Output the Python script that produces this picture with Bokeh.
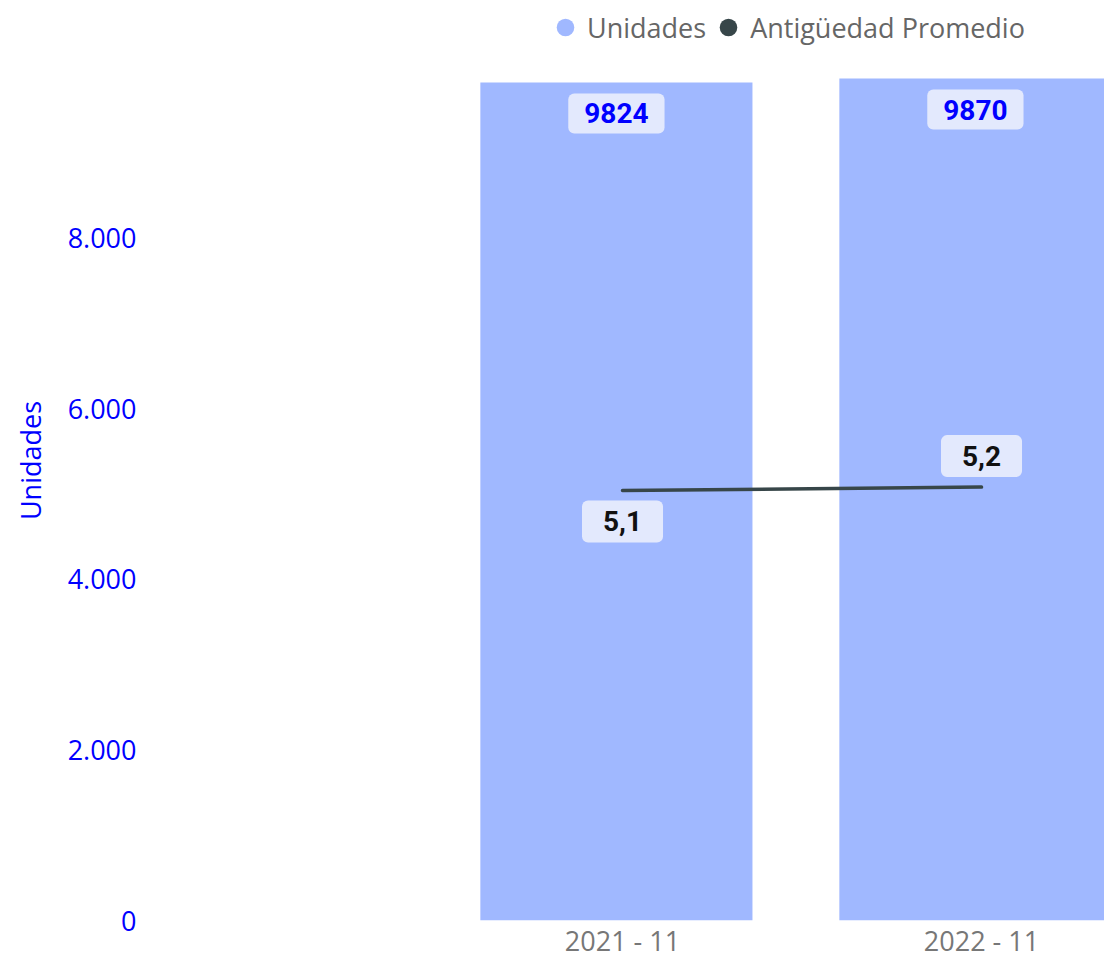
from bokeh.plotting import figure
from bokeh.models import (Range1d, FixedTicker, ColumnDataSource, Legend,
                          LegendItem)
from bokeh.transform import dodge
from bokeh.core.properties import value
from bokeh.embed import file_html
from bokeh.resources import INLINE

# ---- data ----
categories = ["2021 - 11", "2022 - 11"]
unidades = [9824, 9870]
antiguedad = [5.12, 5.16]
y_ticks = [0, 2000, 4000, 6000, 8000]
y_tick_labels = ["0", "2.000", "4.000", "6.000", "8.000"]

# ---- styles ----
BAR = "#A0B8FF"
LINE = "#374649"
LBL_BG = "#E3E9FD"
AX_BLUE = "#0000FF"
FONT = "Open Sans"
LBL_FONT = "Roboto"
line_label_offsets = [31, -31]

xs = list(range(len(categories)))
src = ColumnDataSource(dict(
    x=xs,
    u=unidades,
    a=antiguedad,
    u_lbl=[str(v) for v in unidades],
    a_lbl=[f"{v:.1f}".replace(".", ",") for v in antiguedad],
    a_off=line_label_offsets,
))

p = figure(width=1104, height=961,
           x_range=Range1d(-1.3148, 1.3426),
           y_range=Range1d(0, 10785),
           output_backend="svg", toolbar_location=None,
           min_border_left=150, min_border_right=0,
           min_border_top=0, min_border_bottom=41)
p.extra_y_ranges = {"sec": Range1d(0, 10.954)}
p.outline_line_color = None
p.grid.visible = False
p.background_fill_color = "white"
p.border_fill_color = "white"

# bars
p.vbar(x=dodge("x", -0.017, range=p.x_range), top="u", width=0.758,
       source=src, fill_color=BAR, line_color=None)

# line on secondary range
p.line(x="x", y="a", source=src, y_range_name="sec",
       line_color=LINE, line_width=3.5, line_cap="round")

# legend proxies (size 0 so nothing drawn on the plot)
s1 = p.scatter(x="x", y="u", source=src, size=0, marker="circle",
               fill_color=BAR, line_color=None)
s2 = p.scatter(x="x", y="a", source=src, size=0, marker="circle",
               y_range_name="sec", fill_color=LINE, line_color=None)

# data labels for bars
p.text(x=dodge("x", -0.017, range=p.x_range), y="u", text="u_lbl", source=src,
       y_offset=31, text_align="center", text_baseline="middle",
       text_font=value(LBL_FONT), text_font_size="28px", text_font_style="bold",
       text_color=AX_BLUE, background_fill_color=LBL_BG,
       border_radius=6, padding=(16, 10))

# data labels for line
p.text(x="x", y="a", text="a_lbl", source=src, y_range_name="sec",
       y_offset="a_off", text_align="center", text_baseline="middle",
       text_font=value(LBL_FONT), text_font_size="28px", text_font_style="bold",
       text_color="#111111", background_fill_color=LBL_BG,
       border_radius=6, padding=(21, 11))

# x axis (categories)
xa = p.xaxis[0]
xa.ticker = FixedTicker(ticks=xs)
xa.major_label_overrides = {i: c for i, c in zip(xs, categories)}
xa.axis_line_color = None
xa.major_tick_line_color = None
xa.minor_tick_line_color = None
xa.major_tick_out = 0
xa.major_tick_in = 0
xa.minor_tick_out = 0
xa.major_label_standoff = 1
xa.major_label_text_font = FONT
xa.major_label_text_font_size = "27px"
xa.major_label_text_color = "#777777"

# y axis
ya = p.yaxis[0]
ya.ticker = FixedTicker(ticks=y_ticks)
ya.major_label_overrides = {t: l for t, l in zip(y_ticks, y_tick_labels)}
ya.axis_line_color = None
ya.major_tick_line_color = None
ya.minor_tick_line_color = None
ya.major_tick_out = 0
ya.major_tick_in = 0
ya.minor_tick_out = 0
ya.major_label_standoff = 14
ya.major_label_text_font = FONT
ya.major_label_text_font_size = "27px"
ya.major_label_text_color = AX_BLUE
ya.axis_label = "Unidades"
ya.axis_label_text_font = FONT
ya.axis_label_text_font_size = "27px"
ya.axis_label_text_font_style = "normal"
ya.axis_label_text_color = AX_BLUE
ya.axis_label_standoff = 16

legend = Legend(items=[LegendItem(label="Unidades", renderers=[s1]),
                       LegendItem(label="Antigüedad Promedio", renderers=[s2])],
                orientation="horizontal", location=(393, 868),
                glyph_width=44, glyph_height=50, label_standoff=0,
                spacing=0, padding=0, margin=0,
                label_text_font=FONT, label_text_font_size="27px",
                label_text_color="#666666",
                border_line_alpha=0, background_fill_alpha=0)
p.add_layout(legend)

open("out.html", "w").write(file_html(p, INLINE))
